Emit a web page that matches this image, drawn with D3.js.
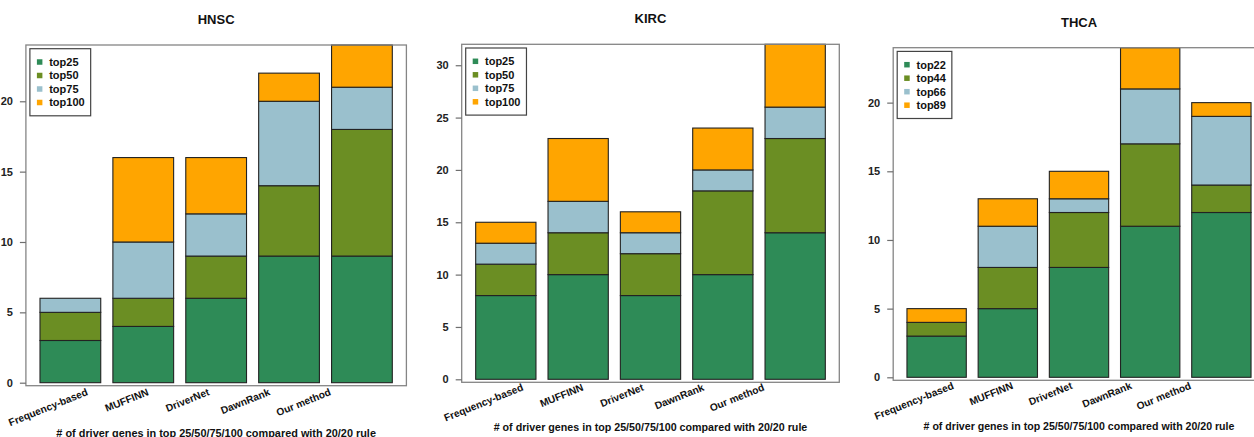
<!DOCTYPE html>
<html>
<head>
<meta charset="utf-8">
<script src="https://cdn.jsdelivr.net/npm/d3@7"></script>
<style>
  html, body { margin: 0; padding: 0; background: #fff; }
  svg { display: block; font-family: "Liberation Sans", Arial, sans-serif; }
</style>
</head>
<body>
<svg id="chart" width="1254" height="437"></svg>
<script>
// Methods compared in every panel
const methods = ["Frequency-based", "MUFFINN", "DriverNet", "DawnRank", "Our method"];

// Cumulative number of 20/20-rule driver genes found within each rank cutoff (one row per method)
const hnscLevels = ["top25", "top50", "top75", "top100"];
const hnscCounts = [[3, 5, 6, 6], [4, 6, 10, 16], [6, 9, 12, 16], [9, 14, 20, 22], [9, 18, 21, 24]];
const hnscTicks = [0, 5, 10, 15, 20];

const kircLevels = ["top25", "top50", "top75", "top100"];
const kircCounts = [[8, 11, 13, 15], [10, 14, 17, 23], [8, 12, 14, 16], [10, 18, 20, 24], [14, 23, 26, 32]];
const kircTicks = [0, 5, 10, 15, 20, 25, 30];

const thcaLevels = ["top22", "top44", "top66", "top89"];
const thcaCounts = [[3, 4, 4, 5], [5, 8, 11, 13], [8, 12, 13, 15], [11, 17, 21, 24], [12, 14, 19, 20]];
const thcaTicks = [0, 5, 10, 15, 20];

const xTitle = "# of driver genes in top 25/50/75/100 compared with 20/20 rule";

// Fill for each cutoff level, bottom to top
const levelColors = ["#2E8B57", "#6B8E23", "#9AC0CD", "#FFA500"];

// Panel placement on the page
const panels = [
  { title: "HNSC", levels: hnscLevels, counts: hnscCounts, ticks: hnscTicks,
    left: 25.9, right: 406.4, top: 45, zero: 382.7, titleY: 24, labelDy: 12, xTitleY: 436.5, xTitleSize: 10.9 },
  { title: "KIRC", levels: kircLevels, counts: kircCounts, ticks: kircTicks,
    left: 461.7, right: 839.3, top: 44.3, zero: 379.3, titleY: 23.3, labelDy: 10.7, xTitleY: 431, xTitleSize: 10.7 },
  { title: "THCA", levels: thcaLevels, counts: thcaCounts, ticks: thcaTicks,
    left: 893.2, right: 1264.8, top: 47.7, zero: 377.3, titleY: 26.7, labelDy: 11, xTitleY: 429.5, xTitleSize: 10.6 }
];

const svg = d3.select("#chart");
svg.append("rect").attr("width", 1254).attr("height", 437).attr("fill", "#fff");

// barplot-style geometry: bars of width 1 separated by 0.2, x range padded by 4%
const barWidth = 1, barSpace = 0.2;
const barStart = i => barSpace + i * (barWidth + barSpace);
const xMin = barSpace, xMax = barStart(methods.length - 1) + barWidth;
const xPad = (xMax - xMin) * 0.04;

panels.forEach(p => {
  const g = svg.append("g");
  const yMax = d3.max(p.counts, c => c[c.length - 1]);

  const x = d3.scaleLinear().domain([xMin - xPad, xMax + xPad]).range([p.left, p.right]);
  const y = d3.scaleLinear().domain([0, yMax]).range([p.zero, p.top]);
  const boxBottom = p.zero + 3;

  // Title
  g.append("text")
    .attr("x", (p.left + p.right) / 2).attr("y", p.titleY)
    .attr("text-anchor", "middle")
    .attr("font-size", 13).attr("font-weight", "bold").attr("fill", "#111")
    .text(p.title);

  // Stacked bars: each segment spans the previous cutoff count to the current one
  const segs = [];
  p.counts.forEach((c, i) => {
    c.forEach((v, k) => {
      segs.push({ i, k, lo: k === 0 ? 0 : c[k - 1], hi: v });
    });
  });
  g.selectAll("rect.seg").data(segs).enter().append("rect")
    .attr("class", "seg")
    .attr("x", d => x(barStart(d.i)))
    .attr("width", d => x(barStart(d.i) + barWidth) - x(barStart(d.i)))
    .attr("y", d => y(d.hi))
    .attr("height", d => y(d.lo) - y(d.hi))
    .attr("fill", d => levelColors[d.k])
    .attr("stroke", "#222").attr("stroke-width", 1.1);

  // Plot frame
  g.append("rect")
    .attr("x", p.left).attr("y", p.top)
    .attr("width", p.right - p.left).attr("height", boxBottom - p.top)
    .attr("fill", "none").attr("stroke", "#858585").attr("stroke-width", 1.3);

  // Y axis
  const yAxis = g.append("g")
    .attr("transform", `translate(${p.left},0)`)
    .call(d3.axisLeft(y).tickValues(p.ticks).tickSize(6).tickPadding(7).tickFormat(d3.format("d")));
  yAxis.select(".domain").remove();
  yAxis.selectAll(".tick line").attr("stroke", "#6e6e6e").attr("stroke-width", 1.2);
  yAxis.selectAll(".tick text")
    .attr("font-size", 11).attr("font-weight", "bold").attr("fill", "#222")
    .attr("font-family", "'Liberation Sans', Arial, sans-serif");

  // Rotated method labels
  g.selectAll("text.method").data(methods).enter().append("text")
    .attr("class", "method")
    .attr("text-anchor", "end")
    .attr("font-size", 10.2).attr("font-weight", "bold").attr("fill", "#111")
    .attr("transform", (d, i) => `translate(${x(i + 1)},${p.zero + p.labelDy}) rotate(-22)`)
    .text(d => d);

  // X axis title
  g.append("text")
    .attr("x", (p.left + p.right) / 2).attr("y", p.xTitleY)
    .attr("text-anchor", "middle")
    .attr("font-size", p.xTitleSize).attr("font-weight", "bold").attr("fill", "#111")
    .text(xTitle);

  // Legend
  const lg = g.append("g").attr("transform", `translate(${p.left + 4},${p.top + 3.7})`);
  const rowH = 13.5, firstRow = 13.3, textX = 19.3;
  const frame = lg.append("rect").attr("fill", "#fff").attr("stroke", "#444").attr("stroke-width", 1.2);
  const items = lg.selectAll("g.item").data(p.levels).enter().append("g")
    .attr("class", "item")
    .attr("transform", (d, k) => `translate(0,${firstRow + k * rowH})`);
  items.append("rect")
    .attr("x", 7).attr("y", -2.75).attr("width", 5.5).attr("height", 5.5)
    .attr("fill", (d, k) => levelColors[k]);
  const labels = items.append("text")
    .attr("x", textX).attr("dy", "0.36em")
    .attr("font-size", 11).attr("font-weight", "bold").attr("fill", "#111")
    .text(d => d);
  let maxW = 0;
  labels.each(function () { maxW = Math.max(maxW, this.getComputedTextLength()); });
  frame.attr("x", 0).attr("y", 0)
    .attr("width", textX + maxW + 6)
    .attr("height", firstRow * 2 + (p.levels.length - 1) * rowH);
});
</script>
</body>
</html>
